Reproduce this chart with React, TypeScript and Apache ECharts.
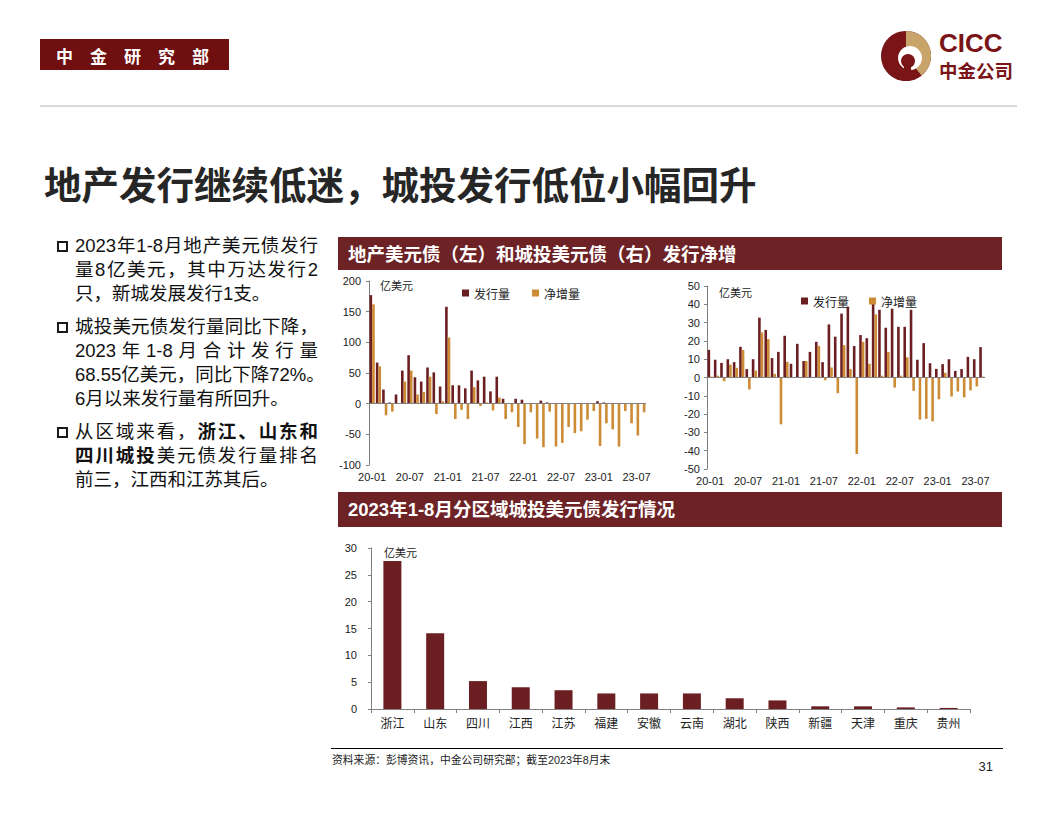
import React, { useEffect, useRef } from 'react';
import * as echarts from 'echarts';

const FONT = "'Liberation Sans', Arial, 'Noto Sans CJK SC', sans-serif";
const CJK = "'Noto Sans CJK SC', 'Liberation Sans', sans-serif";
const MAROON = '#6C1F22';
const ORANGE = '#CC8B34';
const AXIS = '#808080';
const INK = '#222';
const LOGO = '#7A1517';

const months = [
  '20-01', '20-02', '20-03', '20-04', '20-05', '20-06', '20-07', '20-08', '20-09', '20-10', '20-11', '20-12',
  '21-01', '21-02', '21-03', '21-04', '21-05', '21-06', '21-07', '21-08', '21-09', '21-10', '21-11', '21-12',
  '22-01', '22-02', '22-03', '22-04', '22-05', '22-06', '22-07', '22-08', '22-09', '22-10', '22-11', '22-12',
  '23-01', '23-02', '23-03', '23-04', '23-05', '23-06', '23-07', '23-08',
];

// 地产美元债（亿美元）
const propertyIssue = [
  177, 67, 23, 2, 15, 54, 79, 43, 36, 59, 51, 28,
  158, 30, 30, 25, 54, 38, 44, 20, 44, 8, 0, 8,
  6.5, 1, 0, 5, 2, 0, 0, 1, 0, 0, 0, 0,
  4, 2, 0, 0, 0, 0, 1, 0.5,
];
const propertyNet = [
  162, 61, -19, -13, 0, 36, 54, 15, 19, 44, -17, 4,
  108, -25, -10, -25, 27, -4, 2, -11, 10, -25, -14, -38,
  -66, -14, -57, -71, -13, -70, -64, -38, -48, -45, -26, -12,
  -69, -32, -42, -70, -12, -32, -52, -14,
];

// 城投美元债（亿美元）
const lgfvIssue = [
  15.1, 9.7, 8, 10, 8.4, 16.8, 4.6, 10, 32.7, 26, 10.6, 14,
  22.8, 7.5, 18.4, 9, 14, 19.5, 8.4, 29, 22.3, 34.9, 38.7, 17.2,
  23.2, 21.5, 42.5, 37, 27.2, 37.6, 27.7, 27.7, 37, 9.7, 18.8, 7.8,
  4.7, 7.3, 10, 3.6, 4.6, 11.3, 10, 16.6,
];
const lgfvNet = [
  0.5, 1, -2, 7, 5.3, 15, -6.5, 3.8, 24.6, 21, 2, -25.6,
  8.6, 0, 0, 9, 0, 17.3, -1.5, 5.5, -8.6, 17.7, 4.6, -41.8,
  19.5, 7.5, 34.5, 1, 14, -5.5, 1, 11, -7.3, -23, -22.6, -24,
  -11.9, 2.6, -10.4, -7.7, -10.8, -7.1, -4.9, 0.5,
];

const regions = ['浙江', '山东', '四川', '江西', '江苏', '福建', '安徽', '云南', '湖北', '陕西', '新疆', '天津', '重庆', '贵州'];
const regionIssue = [27.6, 14.1, 5.2, 4.05, 3.5, 2.9, 2.9, 2.9, 2.0, 1.6, 0.5, 0.5, 0.3, 0.2];

const legendNames = ['发行量', '净增量'];

type Seg = [string, boolean];
type Line = { segs: Seg[]; justify: boolean };
const bullets: { top: number; lines: Line[] }[] = [
  {
    top: 234,
    lines: [
      { segs: [['2023年1-8月地产美元债发行', false]], justify: true },
      { segs: [['量8亿美元，其中万达发行2', false]], justify: true },
      { segs: [['只，新城发展发行1支。', false]], justify: false },
    ],
  },
  {
    top: 315,
    lines: [
      { segs: [['城投美元债发行量同比下降，', false]], justify: true },
      { segs: [['2023年1-8月合计发行量', false]], justify: true },
      { segs: [['68.55亿美元，同比下降72%。', false]], justify: false },
      { segs: [['6月以来发行量有所回升。', false]], justify: false },
    ],
  },
  {
    top: 420,
    lines: [
      { segs: [['从区域来看，', false], ['浙江、山东和', true]], justify: true },
      { segs: [['四川城投', true], ['美元债发行量排名', false]], justify: true },
      { segs: [['前三，江西和江苏其后。', false]], justify: false },
    ],
  },
];

const zeroLine = {
  silent: true,
  symbol: 'none',
  label: { show: false },
  lineStyle: { color: AXIS, width: 1, type: 'solid' },
  data: [{ yAxis: 0 }],
};

function txt(x: number, y: number, text: string, fontSize: number, fill: string, extra: any = {}) {
  return {
    type: 'text',
    x,
    y,
    silent: true,
    style: {
      text,
      fontSize,
      fill,
      fontFamily: extra.fontFamily || FONT,
      fontWeight: extra.fontWeight || 'normal',
      align: extra.align || 'left',
      verticalAlign: 'middle',
    },
  };
}

function buildOption(): any {
  const label = { fontSize: 11, color: INK, fontFamily: FONT };
  const monthAxis = (gridIndex: number) => ({
    gridIndex,
    type: 'category',
    data: months,
    axisLine: { show: false, onZero: false },
    axisTick: { show: false },
    axisLabel: { ...label, interval: 5, margin: 6 },
  });
  const valueAxis = (gridIndex: number, min: number, max: number, interval: number, margin: number) => ({
    gridIndex,
    type: 'value',
    min,
    max,
    interval,
    axisLine: { show: true, lineStyle: { color: AXIS } },
    axisTick: { show: true, length: 3, lineStyle: { color: AXIS } },
    axisLabel: { ...label, margin },
    splitLine: { show: false },
  });
  const legend = (left: number, top: number, gap: number) => ({
    left,
    top,
    itemWidth: 7,
    itemHeight: 7,
    itemGap: gap,
    icon: 'rect',
    selectedMode: false,
    data: legendNames,
    textStyle: { fontSize: 12, color: INK, fontFamily: CJK },
  });

  return {
    animation: false,
    textStyle: { fontFamily: FONT },
    grid: [
      { left: 369, top: 281, width: 277, height: 184 },
      { left: 707, top: 286, width: 278, height: 183 },
      { left: 371, top: 548, width: 599, height: 161 },
    ],
    xAxis: [
      monthAxis(0),
      monthAxis(1),
      {
        gridIndex: 2,
        type: 'category',
        data: regions,
        axisLine: { show: true, lineStyle: { color: AXIS } },
        axisTick: { show: true, length: 4, lineStyle: { color: AXIS } },
        axisLabel: { fontSize: 12, color: INK, fontFamily: CJK, margin: 7 },
      },
    ],
    yAxis: [
      valueAxis(0, -100, 200, 50, 8),
      valueAxis(1, -50, 50, 10, 7),
      valueAxis(2, 0, 30, 5, 14),
    ],
    legend: [legend(457, 282, 22), legend(796, 290, 20)],
    series: [
      {
        name: '发行量', type: 'bar', xAxisIndex: 0, yAxisIndex: 0, data: propertyIssue,
        itemStyle: { color: MAROON }, barWidth: 2.6, barGap: '0%', markLine: zeroLine,
      },
      {
        name: '净增量', type: 'bar', xAxisIndex: 0, yAxisIndex: 0, data: propertyNet,
        itemStyle: { color: ORANGE }, barWidth: 2.6, barGap: '0%',
      },
      {
        name: '发行量', type: 'bar', xAxisIndex: 1, yAxisIndex: 1, data: lgfvIssue,
        itemStyle: { color: MAROON }, barWidth: 2.6, barGap: '0%', markLine: zeroLine,
      },
      {
        name: '净增量', type: 'bar', xAxisIndex: 1, yAxisIndex: 1, data: lgfvNet,
        itemStyle: { color: ORANGE }, barWidth: 2.6, barGap: '0%',
      },
      {
        name: '城投美元债发行量', type: 'bar', xAxisIndex: 2, yAxisIndex: 2, data: regionIssue,
        itemStyle: { color: MAROON }, barWidth: 18,
      },
    ],
    graphic: [
      // header box
      { type: 'rect', silent: true, shape: { x: 40, y: 39, width: 189, height: 31 }, style: { fill: '#700F10' } },
      txt(56, 55, '中　金　研　究　部', 17, '#FFFFFF', { fontFamily: CJK, fontWeight: 'bold' }),
      // logo
      { type: 'circle', silent: true, shape: { cx: 906, cy: 56, r: 25 }, style: { fill: LOGO } },
      {
        type: 'sector', silent: true,
        shape: { cx: 906, cy: 56, r0: 0, r: 25, startAngle: -Math.PI / 2, endAngle: 0.9, clockwise: true },
        style: { fill: '#C9A46A' },
      },
      { type: 'circle', silent: true, shape: { cx: 910, cy: 58, r: 12 }, style: { fill: '#FFFFFF' } },
      { type: 'circle', silent: true, shape: { cx: 908, cy: 61, r: 7 }, style: { fill: LOGO } },
      { type: 'rect', silent: true, shape: { x: 904, y: 61, width: 7, height: 19 }, style: { fill: LOGO } },
      txt(939, 43, 'CICC', 26, LOGO, { fontWeight: 'bold' }),
      txt(939, 70, '中金公司', 18.5, LOGO, { fontFamily: CJK, fontWeight: 'bold' }),
      // separator
      { type: 'rect', silent: true, shape: { x: 40, y: 105, width: 977, height: 2 }, style: { fill: '#D9D9D9' } },
      // title
      txt(44, 182, '地产发行继续低迷，城投发行低位小幅回升', 37.5, '#262626', { fontFamily: CJK, fontWeight: 'bold' }),
      // section headers
      { type: 'rect', silent: true, shape: { x: 338, y: 237, width: 664, height: 33 }, style: { fill: '#6D2226' } },
      txt(348, 254, '地产美元债（左）和城投美元债（右）发行净增', 18.5, '#FFFFFF', { fontWeight: 'bold' }),
      { type: 'rect', silent: true, shape: { x: 338, y: 492, width: 664, height: 35 }, style: { fill: '#6D2226' } },
      txt(348, 509, '2023年1-8月分区域城投美元债发行情况', 18.5, '#FFFFFF', { fontWeight: 'bold' }),
      // units
      txt(380, 285, '亿美元', 11, INK, { fontFamily: CJK }),
      txt(719, 292, '亿美元', 11, INK, { fontFamily: CJK }),
      txt(384, 552, '亿美元', 11, INK, { fontFamily: CJK }),
      // footer
      { type: 'rect', silent: true, shape: { x: 331, y: 748, width: 672, height: 1 }, style: { fill: '#000000' } },
      txt(332, 760, '资料来源：彭博资讯，中金公司研究部；截至2023年8月末', 10.8, INK),
      txt(993, 766, '31', 13, INK, { align: 'right' }),
    ],
  };
}

export default function App() {
  const ref = useRef<HTMLDivElement>(null);
  useEffect(() => {
    if (!ref.current) return;
    const chart = echarts.init(ref.current, null, { renderer: 'svg' });
    chart.setOption(buildOption());
    return () => chart.dispose();
  }, []);

  return (
    <div style={{ position: 'absolute', left: 0, top: 0, width: 1056, height: 816, background: '#FFFFFF', overflow: 'hidden' }}>
      <div ref={ref} style={{ position: 'absolute', left: 0, top: 0, width: 1056, height: 816 }} />
      {bullets.map((p, pi) => (
        <div key={pi} style={{ position: 'absolute', left: 0, top: p.top }}>
          <div
            style={{
              position: 'absolute', left: 57, top: 7, width: 7, height: 7,
              border: '2px solid #1A1A1A', boxSizing: 'content-box',
            }}
          />
          {p.lines.map((ln, li) => (
            <div
              key={li}
              style={{
                position: 'absolute', left: 75, top: li * 24, width: 243, height: 24,
                lineHeight: '24px', fontSize: 18.5, color: '#111',
                fontFamily: FONT,
                textAlign: ln.justify ? 'justify' : 'left',
                textAlignLast: ln.justify ? 'justify' : 'left',
                whiteSpace: ln.justify ? 'normal' : 'nowrap',
              } as React.CSSProperties}
            >
              {ln.segs.map((s, si) => (
                <span key={si} style={{ fontWeight: s[1] ? 'bold' : 'normal' }}>{s[0]}</span>
              ))}
            </div>
          ))}
        </div>
      ))}
    </div>
  );
}
